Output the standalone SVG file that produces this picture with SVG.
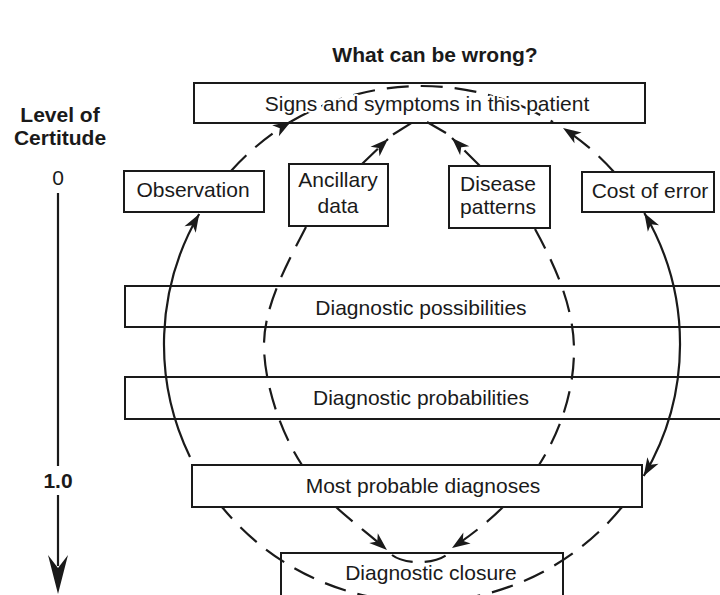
<svg xmlns="http://www.w3.org/2000/svg" width="720" height="595" viewBox="0 0 720 595">
<style>
  .box { fill: #ffffff; stroke: #1a1a1a; stroke-width: 2; }
  .open { fill: none; stroke: #1a1a1a; stroke-width: 2; }
  .t { font-family: "Liberation Sans", Arial, Helvetica, sans-serif; font-size: 21px; fill: #1a1a1a; text-anchor: middle; }
  .b { font-weight: bold; }
  .halo { paint-order: stroke; stroke: #ffffff; stroke-width: 4; stroke-linejoin: round; }
  .solid { fill: none; stroke: #1a1a1a; stroke-width: 2.2; }
  .dash { fill: none; stroke: #1a1a1a; stroke-width: 2.2; stroke-dasharray: 22 12; }
  .arr { marker-end: url(#ah); }
  .arr2 { marker-start: url(#ah); marker-end: url(#ah); }
</style>
<defs>
  <marker id="ah" markerUnits="userSpaceOnUse" viewBox="-20 -8 22 16" refX="0" refY="0" markerWidth="22" markerHeight="16" orient="auto-start-reverse">
    <path d="M0,0 L-18,-6.5 L-13,0 L-18,6.5 Z" fill="#1a1a1a" stroke="none"/>
  </marker>
</defs>
<rect width="720" height="595" fill="#ffffff"/>

<text class="t b" x="435" y="62">What can be wrong?</text>

<g id="certitude-axis">
  <text class="t b" x="60" y="122">Level of</text>
  <text class="t b" x="60" y="145">Certitude</text>
  <text class="t" x="58" y="185">0</text>
  <line x1="58" y1="193" x2="58" y2="466" stroke="#1a1a1a" stroke-width="2.2"/>
  <text class="t b" x="58" y="488">1.0</text>
  <line x1="58" y1="495" x2="58" y2="566" stroke="#1a1a1a" stroke-width="2.2"/>
  <polygon points="58,594 48,555 58,568 68,555" fill="#1a1a1a"/>
</g>

<g id="possibilities">
  <rect class="open" x="125" y="286" width="610" height="41"/>
  <text class="t" x="421" y="315">Diagnostic possibilities</text>
</g>
<g id="probabilities">
  <rect class="open" x="125" y="377" width="610" height="42"/>
  <text class="t" x="421" y="405">Diagnostic probabilities</text>
</g>
<g id="signs">
  <rect class="box" x="194" y="83" width="451" height="40"/>
</g>
<g id="closure">
  <rect class="box" x="281" y="553" width="282" height="50"/>
</g>

<g id="connectors">
  <!-- outer circle, center (422,344) r 258 -->
  <path class="solid arr" d="M190,457 A258,258 0 0 1 199.2,214"/>
  <path class="dash arr" d="M231,171 A258,258 0 0 1 291,121.5"/>
  <path class="dash" d="M291,121.5 A258,258 0 0 1 553,122"/>
  <path class="dash arr" d="M614,172 A258,258 0 0 0 563,128"/>
  <path class="solid arr2" d="M644.3,213 A258,258 0 0 1 643.7,476"/>
  <path class="dash" d="M622,507 A258,258 0 0 1 222,507"/>
  <!-- inner loop -->
  <path class="dash arr" d="M362,164 L388,139"/>
  <path class="dash" d="M393,134.5 L413,122"/>
  <path class="dash arr" d="M480,166 L452,138"/>
  <path class="dash" d="M446,133 L427,122"/>
  <path class="dash" d="M306,227 C288,262 264,305 264,345 C264,385 282,435 302,465"/>
  <path class="dash" d="M535,229 C553,262 574,305 574,350 C574,395 558,435 539,465"/>
  <path class="dash arr" d="M336,507 C350,520 370,535 387,550"/>
  <path class="dash arr" d="M503,507 C488,522 470,536 452,548"/>
  <path class="dash" d="M392,555 C405,565 438,565 450,552"/>
</g>

<g id="signs-label">
  <text class="t halo" x="427" y="111">Signs and symptoms in this patient</text>
</g>
<g id="closure-label">
  <text class="t halo" x="431" y="580">Diagnostic closure</text>
</g>
<g id="observation">
  <rect class="box" x="124" y="171" width="140" height="41"/>
  <text class="t" x="193" y="197">Observation</text>
</g>
<g id="ancillary">
  <rect class="box" x="289" y="164" width="99" height="62"/>
  <text class="t" x="338" y="187">Ancillary</text>
  <text class="t" x="338" y="213">data</text>
</g>
<g id="disease">
  <rect class="box" x="449" y="166" width="101" height="62"/>
  <text class="t" x="498" y="191">Disease</text>
  <text class="t" x="498" y="214">patterns</text>
</g>
<g id="cost">
  <rect class="box" x="582" y="172" width="132" height="40"/>
  <text class="t" x="650" y="198">Cost of error</text>
</g>
<g id="most-probable">
  <rect class="box" x="192" y="465" width="450" height="42"/>
  <text class="t" x="423" y="493">Most probable diagnoses</text>
</g>
</svg>
